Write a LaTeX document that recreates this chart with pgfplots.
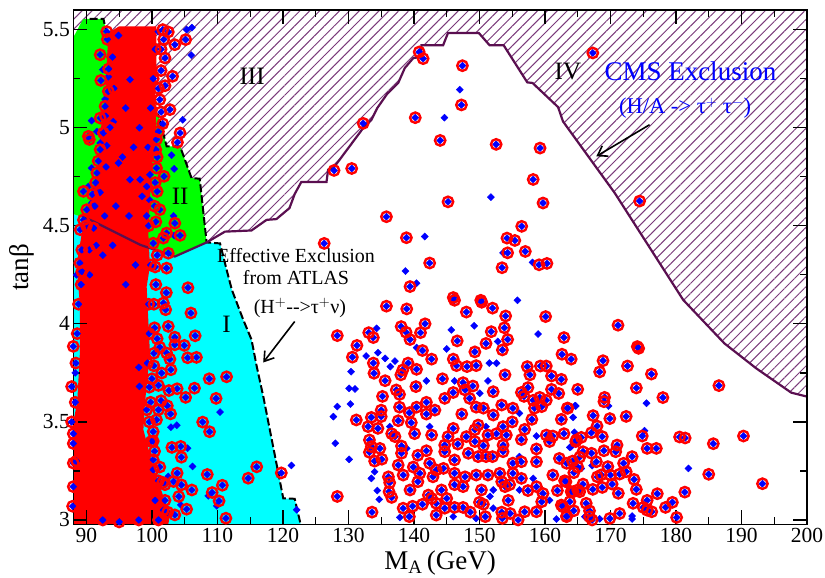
\documentclass[border=0pt]{standalone}
\usepackage{pgfplots}
\usepackage{pgfplotstable}
\pgfplotsset{compat=1.18}
\usepackage{fontspec}
\setmainfont{Liberation Serif}
\usetikzlibrary{patterns.meta,arrows.meta}
\definecolor{hatchc}{HTML}{7A3A7A}
\definecolor{linec}{HTML}{5A0F50}
\definecolor{cyanc}{HTML}{00FFFF}
\definecolor{greenc}{HTML}{00FF00}
\definecolor{redc}{HTML}{FF0000}
\definecolor{bluec}{HTML}{0000FF}
\pgfplotstableread{
x y
128.3 3.94
133.1 3.955
133.8 3.93
131.3 3.89
130.6 3.83
138.05 3.986
138.8 3.957
139.4 3.92
141.0 3.955
141.7 4.0
135.8 4.09
138.9 4.076
146.2 4.12
150.35 4.11
152 4.08
154 4.04
148 4.06
160.1 4.037
153.8 3.98
151.8 3.96
146.6 3.913
151 3.90
154.3 3.92
153.5 3.867
162.9 3.93
162.6 3.845
164 3.82
149.3 3.857
141.3 3.864
142.7 3.82
146 3.82
146.5 3.787
148.1 3.782
149.5 3.787
133.8 3.8
133.9 3.748
139.1 3.8
138.3 3.765
138 3.74
140.4 3.768
135.6 3.71
144.35 3.72
147.5 3.70
149 3.683
140.3 3.68
137.3 3.663
137.8 3.64
135.2 3.63
146 3.65
147.8 3.663
148.5 3.62
144.7 3.62
141.9 3.6
152.1 3.654
153.9 3.74
157.3 3.782
157.7 3.74
159.3 3.785
160.2 3.785
161 3.734
162.5 3.717
165 3.666
161 3.666
162.1 3.645
157.4 3.675
156.4 3.65
156.8 3.63
159.2 3.625
158.2 3.61
160.2 3.61
159.5 3.578
158.4 3.57
163.4 3.57
162.5 3.513
158 3.513
155.1 3.57
153.4 3.586
152.1 3.535
150.6 3.57
149.5 3.575
147.3 3.54
140.4 3.575
137.8 3.575
135 3.56
135 3.527
133.5 3.523
131.2 3.51
133 3.476
134.5 3.467
137.6 3.506
139.3 3.547
139.6 3.496
141.9 3.54
143.2 3.56
136.6 3.44
137.1 3.425
140.1 3.44
142.7 3.433
146 3.467
145.2 3.425
149.8 3.484
149.3 3.46
155 3.5
153.6 3.476
154.1 3.433
152.6 3.44
151.3 3.433
156.9 3.462
156.4 3.41
160.2 3.433
161.2 3.428
160.7 3.4
162.9 3.44
164.8 3.408
158.7 3.362
133.2 3.408
133.5 3.374
134.8 3.365
133.2 3.345
134 3.3
135.1 3.31
137.6 3.28
138.1 3.377
138.1 3.34
140.6 3.33
141.9 3.353
144.7 3.382
144.7 3.348
146.7 3.387
148 3.425
149.3 3.4
150.6 3.379
153.6 3.382
153.6 3.348
148.3 3.34
152 3.323
151 3.323
146.2 3.306
149.8 3.323
155.1 3.29
156.4 3.297
158.7 3.297
162.2 3.314
163.3 3.289
165 3.27
136.1 3.22
136.3 3.19
136.2 3.144
136.6 3.115
138.35 3.229
139.9 3.27
140.9 3.238
142.4 3.289
140.6 3.195
139.4 3.153
144.5 3.263
143.4 3.255
142.9 3.22
146.2 3.238
146.2 3.18
147.8 3.22
149.5 3.229
147.5 3.17
150.3 3.153
151.3 3.229
153.1 3.238
153.4 3.195
155.1 3.238
156.4 3.212
153.9 3.17
154.6 3.18
154.4 3.1
158.7 3.17
157.4 3.15
159.7 3.135
159.5 3.093
161.2 3.229
163.2 3.195
161.9 3.15
164 3.144
165 3.153
142.2 3.127
142.7 3.11
144.2 3.153
145 3.11
141.3 3.08
139.8 3.07
138.35 3.06
139.3 3.017
143.4 3.085
143.4 3.025
144.7 3.06
146.2 3.064
147.5 3.064
148.6 3.04
150 3.09
150.6 3.08
150.9 3.017
153.4 3.04
153.5 3.008
154.7 3.033
155.9 3
156.9 3.042
158.7 3.042
162.5 3.076
163.3 3.017
133.6 3.04
128.3 3.12
171.15 3.993
174.1 3.884
174.3 3.875
168.86 3.812
172.6 3.785
168.35 3.755
176.25 3.744
173.95 3.673
186.55 3.685
169.1 3.625
169 3.603
178 3.624
163.5 3.57
167.35 3.532
169.9 3.517
172.4 3.528
167.95 3.479
167.1 3.445
168.75 3.425
165.55 3.421
164.7 3.4
174.85 3.428
180.55 3.423
181.4 3.418
190.3 3.428
171 3.382
170.8 3.348
169 3.353
165.8 3.348
167.1 3.34
175.6 3.365
177 3.365
185.7 3.389
173.3 3.323
165.3 3.32
167.85 3.297
164.2 3.3
172 3.289
169.6 3.272
164.4 3.241
172.4 3.246
171.4 3.234
170 3.229
168.6 3.23
168 3.22
173.6 3.207
185 3.233
193.2 3.185
170.25 3.183
165.8 3.183
163 3.2
168.75 3.166
167.3 3.156
173.95 3.156
165.3 3.144
164.3 3.144
177.15 3.134
181.35 3.142
171.2 3.136
166.3 3.085
163.8 3.093
173.45 3.085
175.6 3.1
179.45 3.09
178.4 3.064
175 3.064
175.6 3.05
176.3 3.042
171.4 3.033
166.8 3.047
166.8 3.017
164.4 3.047
163.3 3.02
162.75 3.067
169.9 3.008
167.2 3
180.1 3.013
140.8 5.386
141.4 5.352
147.4 5.316
167.3 5.381
147.25 5.116
132.25 5.022
140.2 5.051
144 4.935
152.55 4.915
159.25 4.896
127.8 4.782
130.5 4.792
158.2 4.736
159.7 4.616
145.2 4.622
174.45 4.626
135.8 4.546
156.45 4.497
138.85 4.439
154.2 4.437
155.4 4.425
126.3 4.41
154.3 4.362
157 4.369
142.4 4.31
153.45 4.286
159.1 4.301
160.3 4.308
139.4 4.19
146 4.134
150.2 4.12
105.5 4.184
102.2 4.159
101.75 4.106
102.1 4.072
105.96 4.055
102.5 3.987
106.6 3.939
103.5 3.932
100.8 3.924
104.95 3.89
101.2 3.881
103.5 3.893
102.25 3.851
105.45 3.827
106.8 3.829
102.75 3.82
100.3 3.786
102.9 3.766
101.5 3.749
108.75 3.72
111.4 3.73
101 3.686
99.6 3.677
102.6 3.66
103.85 3.669
106.5 3.672
105.15 3.625
109.8 3.62
101.4 3.608
102.35 3.582
101 3.562
102.85 3.541
100.7 3.511
99.2 3.562
107.75 3.499
108.8 3.45
100.2 3.402
103.05 3.37
104.4 3.375
104.5 3.32
116 3.271
114.7 3.213
119.75 3.24
108.45 3.232
103.85 3.239
101.65 3.191
103.3 3.196
104.5 3.179
106.1 3.153
110.75 3.177
109.2 3.14
104.1 3.12
110.25 3.097
105.3 3.055
103.5 3.026
111.3 3.009
102 3.1
101.75 3.05
100.2 3.307
100.2 3.256
105.15 5.449
103.5 5.423
102.5 5.488
101.65 5.5
102 5.355
101.4 5.291
103.15 5.262
102 5.214
101.2 5.143
102.75 5.092
101.65 5.02
104.3 4.973
103.9 4.925
100.7 4.94
100.6 4.888
100.7 4.794
101.85 4.752
100.8 4.675
101.2 4.582
103.5 4.513
102.25 4.463
104.3 4.451
101.75 4.437
100.2 4.411
102.5 4.36
102.25 4.284
100.5 4.29
89.55 4.675
90.05 4.582
89.55 4.53
89.05 4.48
89.3 4.377
89 4.31
89.3 4.267
90.45 4.94
90.3 4.956
91.6 4.769
92.1 4.67
92.1 5.372
92.2 5.241
93.35 5.185
92.85 5.109
92.1 5.049
92.6 4.973
92.1 4.888
91.3 4.6
91.1 4.488
90.45 4.377
93.1 5.49
87.75 3.68
88 3.885
87.75 3.5
88 3.44
88 3.39
88 3.29
88 3.17
87.9 3.07
95 2.99
98 3.0
92.5 3.0
94 5.36
94.2 5.2
93.6 5.0
93 4.8
92.8 4.55
91.5 4.4
90.5 4.25
100.5 5.4
100.2 5.25
99.8 5.1
99.4 4.9
99.2 4.7
99.5 4.5
99.8 4.3
99.5 4.1
99.6 3.95
99.3 3.8
99.6 3.5
99.9 3.4
101 3.2
100.5 3.1
101 3.0
93.2 5.45
93.4 5.3
92.9 5.06
91.8 4.83
91.4 4.72
90.9 4.66
90 4.5
89.2 4.2
88.8 4.1
88.6 3.95
88.4 3.8
88.3 3.6
88.5 3.3
101.8 5.45
101.4 5.4
101 5.2
101.4 5.08
101 4.98
100.8 4.85
100.5 4.72
100.4 4.6
100.6 4.52
100.8 4.35
100.6 4.2
100.3 4.1
100.4 3.98
100.3 3.85
100 3.72
99.8 3.6
100.2 3.45
100.4 3.35
101.2 3.27
102 3.18
102.4 3.04
}\ringdata
\pgfplotstableread{
x y
164.6 3.583
169.7 3.581
164.3 3.523
175.5 3.595
175.2 3.455
164.5 3.447
163.8 3.37
181.9 3.263
165.55 3.263
167.2 3.277
168.35 3.006
173.3 3.02
173.3 3.005
166.1 3.016
134.3 3.977
145.7 3.969
149.2 3.99
158.95 3.948
145 3.872
140.4 3.879
132.7 3.836
134.5 3.853
135.6 3.824
137.1 3.81
136.4 3.782
130.4 3.756
130.1 3.671
131 3.668
130.3 3.591
128.3 3.578
127.7 3.527
128.0 3.391
130.1 3.309
133.5 3.212
134 3.246
134.4 3.15
134.7 3.105
141.9 3.709
151.3 3.709
146.2 3.709
150.05 3.646
152.6 3.799
151.5 3.8
152.8 3.91
164.7 3.581
156.1 3.544
158.7 3.428
164 3.374
156.1 3.323
152.1 3.153
151.6 3.12
160.7 3.1
161.75 3.005
137.85 3.013
146 3.017
149.5 3.008
152.1 3.06
136.3 3.476
138.9 3.365
142.4 3.476
151 3.476
158.2 3.212
156.1 3.153
147 5.194
144.65 5.051
151.75 4.646
141.65 4.445
153.6 4.362
158.1 4.313
138.7 4.269
140.4 4.207
155.8 4.12
110.4 3.55
102.9 3.473
103.8 3.483
105.45 3.366
106.2 3.273
102.5 3.222
121.3 3.278
122.1 3.052
108.6 3.123
104.4 3.077
109.9 3.072
98 3.778
98.1 3.681
94.9 5.47
100.97 5.49
93.35 5.26
92.5 5.296
92.85 5.146
90.8 5.036
91.6 4.98
93.1 4.908
92.1 4.922
90.8 4.794
90.3 4.7
91.3 4.684
90.8 4.616
94.9 4.82
94.1 5.03
96.65 5.245
99.7 4.76
98.2 4.735
96.65 4.735
99.7 4.63
99.2 4.55
105.3 5.5
106.1 5.51
106 5.37
104.7 5.04
103 4.86
103.4 4.79
103.4 4.45
103.3 4.55
88.5 4.25
88.3 3.75
98.1 5.0
97.2 4.9
96 5.1
95.5 4.85
98.5 4.65
96.5 4.55
94.5 4.6
94 4.4
92.5 4.35
96 4.2
97.5 4.3
}\bluedata
\begin{document}
\begin{tikzpicture}
\useasboundingbox (-73.3pt,-53.7pt) rectangle (751.7pt,524.3pt);
\begin{axis}[
  at={(0,0)},anchor=south west,
  scale only axis,width=733.7pt,height=514.3pt,
  xmin=88,xmax=200,ymin=2.978,ymax=5.6,
  xtick={90,100,...,200},ytick={3,3.5,4,4.5,5,5.5},
  yticklabels={3,3.5,4,4.5,5,5.5},
  minor xtick={95,105,...,195},
  minor ytick={3.25,3.75,4.25,4.75,5.25},
  tick align=inside,
  tick pos=both,
  xticklabel pos=lower,yticklabel pos=left,
  major tick length=14pt,minor tick length=7pt,
  tick style={black,line width=1.3pt},
  axis line style={line width=1.3pt},
  tick label style={font=\fontsize{21.5}{23}\selectfont},
  /pgf/number format/assume math mode=true,
  xlabel={\fontsize{27}{29}\selectfont M$_{\mathrm{A}}$\,(GeV)},
  ylabel={\fontsize{27}{29}\selectfont tan\char"03B2},
  xlabel style={at={(axis description cs:0.5,0)},anchor=north,yshift=-23pt},
  ylabel style={at={(axis description cs:0,0.5)},anchor=south,yshift=36pt},
  clip=false,
  axis on top,
]
% cyan region
\addplot[fill=cyanc,draw=none] coordinates {(88,2.978)(122.7,2.978)(121.8,3.108)(120.05,3.11)(119,3.29)(117,3.63)(116,3.783)(115.2,3.92)(113.95,4.02)(112.2,4.174)(111.4,4.276)(110.4,4.41)(108.35,4.415)(103.5,4.343)(98.2,4.403)(91.1,4.522)(88,4.56)} --cycle;
% green region
\addplot[fill=greenc,draw=none] coordinates {(88,4.56)(91.1,4.522)(98.2,4.403)(103.5,4.343)(108.35,4.415)(107.3,4.74)(106.05,4.743)(104.3,4.905)(102.25,4.905)(100.98,5.066)(99.7,5.075)(99.2,5.16)(96.9,5.395)(94.4,5.398)(92.85,5.517)(92.6,5.555)(89.5,5.555)(88,5.46)} --cycle;
% hatched exclusion
\addplot[pattern={Lines[angle=45,distance=7pt,line width=1pt]},pattern color=hatchc,draw=none] coordinates {(88,5.46)(89.5,5.555)(92.6,5.555)(92.85,5.517)(94.4,5.398)(96.9,5.395)(99.2,5.16)(99.7,5.075)(100.98,5.066)(102.25,4.905)(104.3,4.905)(106.05,4.743)(107.3,4.74)(108.35,4.415)(111.15,4.47)(115.2,4.476)(117.5,4.53)(119,4.534)(121,4.59)(121.8,4.662)(122.8,4.723)(126.65,4.723)(126.9,4.786)(127.7,4.794)(132.25,4.998)(133.5,5.04)(134.4,5.1)(135.9,5.172)(137.6,5.228)(138.6,5.304)(139.9,5.355)(141,5.36)(141.15,5.42)(144.45,5.42)(145.2,5.483)(149.9,5.483)(151.55,5.42)(153.7,5.42)(157.3,5.231)(158.1,5.228)(162,5.105)(162.75,5.032)(170.65,4.667)(181.1,4.122)(187.4,3.9)(192.25,3.773)(197.6,3.649)(200,3.629)(200,5.6)(88,5.6)} --cycle;
% black dashed boundary
\addplot[black,line width=2pt,dash pattern=on 8pt off 3pt] coordinates {(90.5,5.555)(92.6,5.555)(92.85,5.517)(94.4,5.398)(96.9,5.395)(99.2,5.16)(99.7,5.075)(100.98,5.066)(102.25,4.905)(104.3,4.905)(106.05,4.743)(107.3,4.74)(108.35,4.415)(110.4,4.41)(111.4,4.276)(112.2,4.174)(113.95,4.02)(115.2,3.92)(116,3.783)(117,3.63)(119,3.29)(120.05,3.11)(121.8,3.108)(122.7,2.978)};
% red blob
\addplot[fill=redc,draw=none] coordinates {(95,5.517)(100.7,5.517)(100.7,5.313)(100.5,5.143)(100.7,4.973)(100,4.803)(99.7,4.633)(99.45,4.463)(99.7,4.293)(99.2,4.19)(99.45,4.02)(99.7,3.85)(98.95,3.6)(98.7,3.46)(100.2,3.27)(101.75,3.12)(102.75,3.02)(102.5,2.978)(88,2.978)(88,3.5)(88.6,3.6)(89,3.85)(89,4.1)(88.5,4.3)(89.3,4.463)(90.55,4.633)(91.8,4.803)(92.1,4.973)(92.85,5.143)(93.1,5.313)(93.35,5.483)} --cycle;
% points
\addplot[only marks,mark=square*,mark size=2.5pt,mark options={bluec,rotate=45}] table[x=x,y=y] {\bluedata};
\addplot[only marks,mark=square*,mark size=2.5pt,mark options={bluec,rotate=45}] table[x=x,y=y] {\ringdata};
\addplot[only marks,mark=o,mark size=5.2pt,mark options={draw=redc,line width=2.4pt}] table[x=x,y=y] {\ringdata};
% CMS boundary
\addplot[linec,line width=2.2pt] coordinates {(89.3,4.548)(91.1,4.522)(98.2,4.403)(103.5,4.343)(108.35,4.415)(111.15,4.47)(115.2,4.476)(117.5,4.53)(119,4.534)(121,4.59)(121.8,4.662)(122.8,4.723)(126.65,4.723)(126.9,4.786)(127.7,4.794)(132.25,4.998)(133.5,5.04)(134.4,5.1)(135.9,5.172)(137.6,5.228)(138.6,5.304)(139.9,5.355)(141,5.36)(141.15,5.42)(144.45,5.42)(145.2,5.483)(149.9,5.483)(151.55,5.42)(153.7,5.42)(157.3,5.231)(158.1,5.228)(162,5.105)(162.75,5.032)(170.65,4.667)(181.1,4.122)(187.4,3.9)(192.25,3.773)(197.6,3.649)(200,3.629)};
% labels
\node[font=\fontsize{25}{27}\selectfont] at (axis cs:115.3,5.26) {III};
\node[font=\fontsize{25}{27}\selectfont] at (axis cs:163.5,5.285) {IV};
\node[font=\fontsize{25}{27}\selectfont] at (axis cs:104.3,4.65) {II};
\node[font=\fontsize{25}{27}\selectfont] at (axis cs:111.4,3.995) {I};
\node[font=\fontsize{20}{22}\selectfont] at (axis cs:122,4.347) {Effective Exclusion};
\node[font=\fontsize{20}{22}\selectfont] at (axis cs:122,4.235) {from ATLAS};
\node[font=\fontsize{20}{22}\selectfont] at (axis cs:122.6,4.08) {(H$^+$-{}-{}>\char"03C4$^+$\char"03BD)};
\node[font=\fontsize{27}{29}\selectfont,text=bluec] at (axis cs:182.2,5.286) {CMS Exclusion};
\node[font=\fontsize{22.5}{24}\selectfont,text=bluec] at (axis cs:181.4,5.1) {(H/A -> \char"03C4$^+$ \char"03C4$^-$)};
\draw[-{Straight Barb[length=9pt,width=12pt]},black,line width=1.6pt] (axis cs:121.8,4.012)--(axis cs:116.99,3.803);
\draw[-{Straight Barb[length=9pt,width=12pt]},black,line width=1.6pt] (axis cs:175.97,5.015)--(axis cs:167.84,4.854);
\end{axis}
\end{tikzpicture}
\end{document}
